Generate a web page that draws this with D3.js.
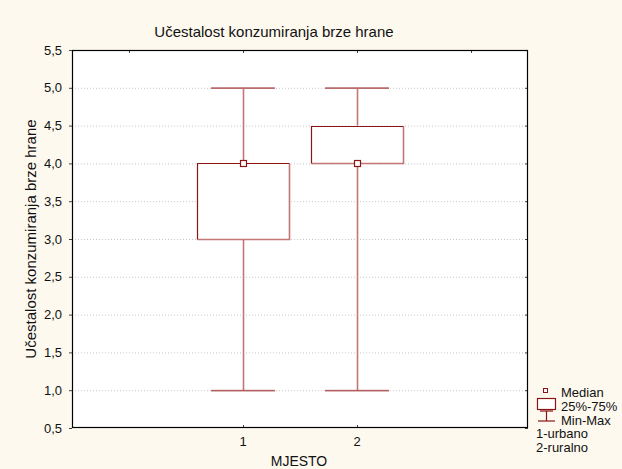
<!DOCTYPE html>
<html><head><meta charset="utf-8">
<script src="https://cdn.jsdelivr.net/npm/d3@7"></script>
<style>body{margin:0;background:#fdf9ef;} svg{display:block;} text{font-family:"Liberation Sans",Arial,sans-serif;}</style>
</head><body>
<script>
const categories = ["1", "2"];
const minVals = [1.0, 1.0];
const q1Vals = [3.0, 4.0];
const medianVals = [4.0, 4.0];
const q3Vals = [4.0, 4.5];
const maxVals = [5.0, 5.0];
const yTicks = [0.5, 1.0, 1.5, 2.0, 2.5, 3.0, 3.5, 4.0, 4.5, 5.0, 5.5];
const title = "Učestalost konzumiranja brze hrane";
const yTitle = "Učestalost konzumiranja brze hrane";
const xTitle = "MJESTO";
const legendItems = ["Median", "25%-75%", "Min-Max"];
const legendNotes = ["1-urbano", "2-ruralno"];

const W = 622, H = 469;
const L = 72, R = 528, T = 50, B = 428;
const svg = d3.select("body").append("svg").attr("width", W).attr("height", H);
svg.append("rect").attr("width", W).attr("height", H).attr("fill", "#fdf9ef");
svg.append("rect").attr("x", L).attr("y", T).attr("width", R - L).attr("height", B - T).attr("fill", "#fff");

const x = d3.scaleLinear().domain([-0.5, 3.5]).range([L, R]);
const y = d3.scaleLinear().domain([0.5, 5.5]).range([B, T]);

// grid
svg.append("g").selectAll("line").data(yTicks.filter(v => v > 0.5 && v < 5.5)).join("line")
  .attr("x1", L).attr("x2", R).attr("y1", d => y(d) + 0.5).attr("y2", d => y(d) + 0.5)
  .attr("stroke", "#c8c8c8").attr("stroke-dasharray", "1,2");

// y axis
const yAxis = d3.axisLeft(y).tickValues(yTicks).tickSize(3).tickPadding(7)
  .tickFormat(d => d3.format(".1f")(d).replace(".", ","));
const gy = svg.append("g").attr("transform", `translate(${L},0)`).call(yAxis);
gy.select(".domain").remove();
gy.selectAll("text").attr("font-size", 13).attr("fill", "#111");
gy.selectAll("line").attr("stroke", "#444");
const gyr = svg.append("g").attr("transform", `translate(${R},0)`).call(d3.axisLeft(y).tickValues(yTicks).tickSize(3).tickFormat(""));
gyr.select(".domain").remove(); gyr.selectAll("line").attr("stroke", "#444");

// x axis
const gx = svg.append("g").attr("transform", `translate(0,${B})`)
  .call(d3.axisTop(x).tickValues([1, 2]).tickSize(3).tickFormat(""));
gx.select(".domain").remove(); gx.selectAll("line").attr("stroke", "#444");
svg.append("g").selectAll("text").data(categories).join("text")
  .attr("x", (d, i) => x(i + 1)).attr("y", B + 18).attr("text-anchor", "middle")
  .attr("font-size", 13).attr("fill", "#111").text(d => d);
const gxt = svg.append("g").attr("transform", `translate(0,${T})`)
  .call(d3.axisBottom(x).tickValues([0, 1, 2, 3]).tickSize(3).tickFormat(""));
gxt.select(".domain").remove(); gxt.selectAll("line").attr("stroke", "#444");

// frame
svg.append("rect").attr("x", L + 0.5).attr("y", T + 0.5).attr("width", R - L - 1).attr("height", B - T - 1)
  .attr("fill", "none").attr("stroke", "#000").attr("stroke-width", 1.2);

// boxes
const boxHalf = 0.4, capHalf = 0.28;
const dark = "#8b1414", light = "#c27676";
const g = svg.append("g");
categories.forEach((c, i) => {
  const cx = x(i + 1);
  const wx = Math.round(cx) + 0.5;
  g.append("line").attr("x1", wx).attr("x2", wx).attr("y1", y(maxVals[i])).attr("y2", y(q3Vals[i]))
    .attr("stroke", light).attr("stroke-width", 1.6);
  g.append("line").attr("x1", wx).attr("x2", wx).attr("y1", y(q1Vals[i])).attr("y2", y(minVals[i]))
    .attr("stroke", light).attr("stroke-width", 1.6);
  [minVals[i], maxVals[i]].forEach(v => {
    g.append("line").attr("x1", x(i + 1 - capHalf)).attr("x2", x(i + 1 + capHalf))
      .attr("y1", y(v) + 0.5).attr("y2", y(v) + 0.5).attr("stroke", light).attr("stroke-width", 1.6);
    g.append("line").attr("x1", x(i + 1 - capHalf)).attr("x2", x(i + 1 + capHalf))
      .attr("y1", y(v)).attr("y2", y(v)).attr("stroke", dark).attr("stroke-width", 0.6).attr("opacity", 0.6);
  });
  const bx0 = Math.round(x(i + 1 - boxHalf)) + 0.5, bx1 = Math.round(x(i + 1 + boxHalf)) + 0.5;
  const by0 = Math.round(y(q3Vals[i])) + 0.5, by1 = Math.round(y(q1Vals[i])) + 0.5;
  g.append("rect").attr("x", bx0).attr("y", by0).attr("width", bx1 - bx0).attr("height", by1 - by0)
    .attr("fill", "#fff").attr("stroke", "none");
  g.append("path").attr("d", `M${bx1},${by0}V${by1}H${bx0}`).attr("fill", "none").attr("stroke", light).attr("stroke-width", 1.6);
  g.append("path").attr("d", `M${bx0},${by1}V${by0}H${bx1}`).attr("fill", "none").attr("stroke", dark).attr("stroke-width", 1.2);
  g.append("rect").attr("x", wx - 3).attr("y", Math.round(y(medianVals[i])) - 2.5).attr("width", 6).attr("height", 6)
    .attr("fill", "#fff").attr("stroke", dark).attr("stroke-width", 1.2);
});

// titles
svg.append("text").attr("x", 274).attr("y", 37).attr("text-anchor", "middle").attr("font-size", 15).attr("fill", "#111").text(title);
svg.append("text").attr("transform", `translate(36,${(T + B) / 2}) rotate(-90)`).attr("text-anchor", "middle")
  .attr("font-size", 15).attr("fill", "#111").text(yTitle);
svg.append("text").attr("x", 299).attr("y", 466).attr("text-anchor", "middle").attr("font-size", 14).attr("fill", "#111").text(xTitle);

// legend
const lg = svg.append("g");
const ly = [394, 408, 422];
lg.append("rect").attr("x", 543.5).attr("y", ly[0] - 5.5).attr("width", 4).attr("height", 4).attr("fill", "#fff").attr("stroke", dark);
lg.append("rect").attr("x", 537.5).attr("y", ly[1] - 9.5).attr("width", 18).attr("height", 11).attr("fill", "#fff").attr("stroke", dark).attr("stroke-width", 1.2);
lg.append("line").attr("x1", 538).attr("x2", 555).attr("y1", ly[2] - 1).attr("y2", ly[2] - 1).attr("stroke", dark).attr("stroke-width", 1.2);
lg.append("line").attr("x1", 546.5).attr("x2", 546.5).attr("y1", ly[2] - 11).attr("y2", ly[2] - 1).attr("stroke", dark).attr("stroke-width", 1.2);
lg.append("line").attr("x1", 540).attr("x2", 553).attr("y1", ly[2] - 11).attr("y2", ly[2] - 11).attr("stroke", dark).attr("stroke-width", 1.2);
lg.selectAll("text.item").data(legendItems).join("text").attr("class", "item")
  .attr("x", 561).attr("y", (d, i) => ly[i] + 3).attr("font-size", 13).attr("fill", "#111").text(d => d);
lg.selectAll("text.note").data(legendNotes).join("text").attr("class", "note")
  .attr("x", 536).attr("y", (d, i) => 438 + i * 14).attr("font-size", 13).attr("fill", "#111").text(d => d);
</script>
</body></html>
